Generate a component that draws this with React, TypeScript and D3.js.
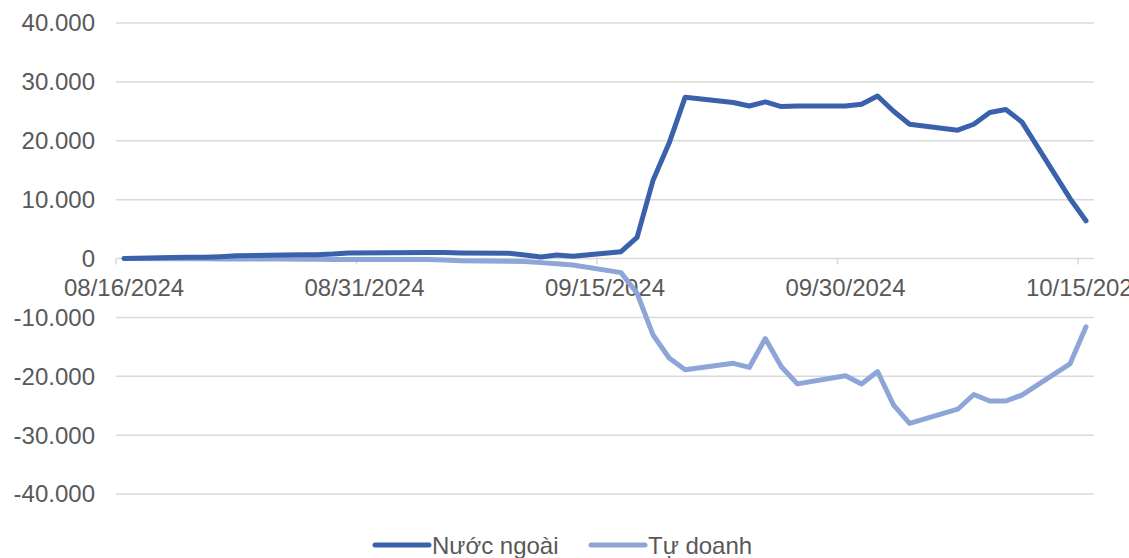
import * as d3 from 'd3';

const dates = [
  '2024-08-16', '2024-08-19', '2024-08-20', '2024-08-21', '2024-08-22', '2024-08-23',
  '2024-08-26', '2024-08-27', '2024-08-28', '2024-08-29', '2024-08-30',
  '2024-09-04', '2024-09-05', '2024-09-06',
  '2024-09-09', '2024-09-10', '2024-09-11', '2024-09-12', '2024-09-13',
  '2024-09-16', '2024-09-17', '2024-09-18', '2024-09-19', '2024-09-20',
  '2024-09-23', '2024-09-24', '2024-09-25', '2024-09-26', '2024-09-27',
  '2024-09-30', '2024-10-01', '2024-10-02', '2024-10-03', '2024-10-04',
  '2024-10-07', '2024-10-08', '2024-10-09', '2024-10-10', '2024-10-11',
  '2024-10-14', '2024-10-15'
];

const nuocNgoai = [
  0, 150, 200, 200, 300, 450,
  600, 650, 650, 750, 950,
  1000, 1000, 950,
  900, 600, 250, 600, 400,
  1150, 3600, 13300, 19600, 27400,
  26500, 25900, 26600, 25800, 25900,
  25900, 26200, 27600, 25000, 22800,
  21800, 22800, 24800, 25300, 23200,
  10200, 6400
];

const tuDoanh = [
  0, -50, -50, -50, -80, -100,
  -100, -120, -130, -150, -150,
  -150, -250, -400,
  -450, -500, -700, -900, -1100,
  -2400, -5900, -13000, -16900, -18900,
  -17800, -18500, -13600, -18400, -21300,
  -19900, -21300, -19200, -24900, -28000,
  -25600, -23100, -24200, -24200, -23200,
  -17900, -11600
];

const yTicks = [40000, 30000, 20000, 10000, 0, -10000, -20000, -30000, -40000];
const xTickDates = ['2024-08-16', '2024-08-31', '2024-09-15', '2024-09-30', '2024-10-15'];

const seriesNames = ['Nước ngoài', 'Tự doanh'];
const seriesColors = ['#3A62AC', '#8EA6D7'];

const W = 1129;
const H = 558;
const HALF_DAY = 12 * 3600 * 1000;

const fmt = d3.formatLocale({
  decimal: ',',
  thousands: '.',
  grouping: [3],
  currency: ['', ''],
  minus: '-'
}).format(',');

const App = (): JSX.Element => {
  const parse = d3.utcParse('%Y-%m-%d');
  const x = d3.scaleUtc([parse('2024-08-16') as Date, parse('2024-10-16') as Date], [116, 1094]);
  const y = d3.scaleLinear([-40000, 40000], [494, 23]);

  const line = d3
    .line<number>()
    .x((_, i) => x(new Date((parse(dates[i]) as Date).getTime() + HALF_DAY)))
    .y((d) => y(d));

  const font = '"Liberation Sans", Arial, sans-serif';
  const legendX = [375, 591];
  const fs = 24;

  return (
    <div style={{ position: 'absolute', left: 0, top: 0 }}>
      <svg width={W} height={H} style={{ display: 'block', background: '#fff' }} fontFamily={font}>
        {/* gridlines */}
        {yTicks.map((t) => (
          <line key={t} x1={116} x2={1094} y1={y(t)} y2={y(t)} stroke="#D9D9D9" strokeWidth={1.5} />
        ))}
        {/* y labels */}
        {yTicks.map((t) => (
          <text key={'l' + t} x={95} y={y(t)} dy="0.35em" textAnchor="end" fontSize={fs} fill="#595959">
            {fmt(t)}
          </text>
        ))}
        {/* x tick marks and labels */}
        {xTickDates.map((d) => {
          const dt = parse(d) as Date;
          const px = x(dt);
          return (
            <g key={d}>
              <line x1={px} x2={px} y1={y(0)} y2={y(0) + 6} stroke="#D9D9D9" strokeWidth={1.5} />
              <text x={x(new Date(dt.getTime() + HALF_DAY))} y={y(0) + 37} textAnchor="middle" fontSize={fs} fill="#595959">
                {d3.utcFormat('%m/%d/%Y')(dt)}
              </text>
            </g>
          );
        })}
        {/* series */}
        {[tuDoanh, nuocNgoai].map((s, i) => (
          <path
            key={i}
            d={line(s) ?? ''}
            fill="none"
            stroke={seriesColors[1 - i]}
            strokeWidth={5}
            strokeLinejoin="round"
            strokeLinecap="round"
          />
        ))}
        {/* legend */}
        {seriesNames.map((n, i) => (
          <g key={n}>
            <line x1={legendX[i]} x2={legendX[i] + 54} y1={545} y2={545} stroke={seriesColors[i]} strokeWidth={5} strokeLinecap="round" />
            <text x={legendX[i] + 57} y={546} dy="0.35em" fontSize={fs} fill="#595959">
              {n}
            </text>
          </g>
        ))}
      </svg>
    </div>
  );
};

export default App;
